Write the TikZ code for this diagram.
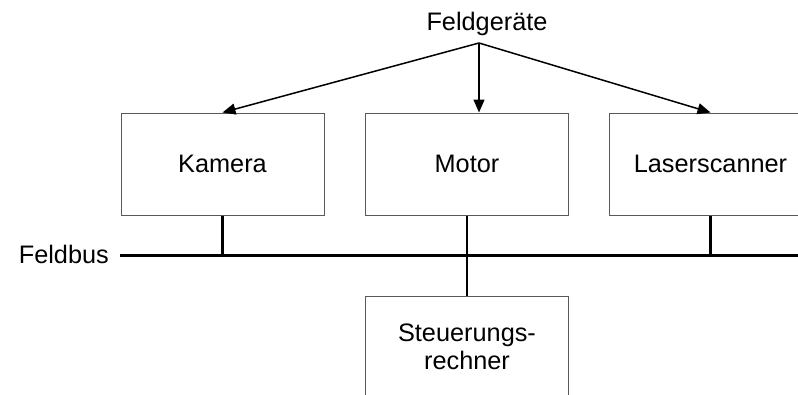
\documentclass[tikz,border=0pt]{standalone}
\usepackage{fontspec}
\setmainfont{Liberation Sans}
\usetikzlibrary{arrows.meta}
\tikzset{
  box/.style={draw=black!65, line width=1pt, minimum width=203pt, minimum height=102pt, inner sep=0pt, align=center, font=\fontsize{25.3}{28}\selectfont},
  lbl/.style={inner sep=0pt, font=\fontsize{25.3}{28}\selectfont},
  arr/.style={line width=1.5pt, -{Triangle[length=13pt,width=11pt]}},
  busline/.style={line width=3pt},
  stub/.style={line width=2.8pt}
}
\begin{document}
\begin{tikzpicture}[x=1pt,y=-1pt]
\useasboundingbox (0,0) rectangle (798,394);
\clip (0,0) rectangle (798,394);
\node[box] (kam) at (222.5,164) {Kamera};
\node[box] (mot) at (467,164) {Motor};
\node[box] (las) at (710.5,164) {Laserscanner};
\node[box] (st) at (467,347) {Steuerungs-\\rechner};
\node[lbl, anchor=base] (fgl) at (487,30) {Feldgeräte};
\coordinate (fg) at (479,43);
\node[lbl, anchor=base east] (fb) at (109,263) {Feldbus};
\coordinate (busL) at (120,255);
\coordinate (busR) at (810,255);
\draw[busline] (busL) -- (busR);
\draw[stub] (kam.south) -- (kam.south |- busL);
\draw[stub] (las.south) -- (las.south |- busL);
\draw[stub] (mot.south) -- (st.north);
\draw[arr] (fg) -- (kam.north);
\draw[arr] (fg) -- (fg |- mot.north);
\draw[arr] (fg) -- (las.north);
\end{tikzpicture}
\end{document}
